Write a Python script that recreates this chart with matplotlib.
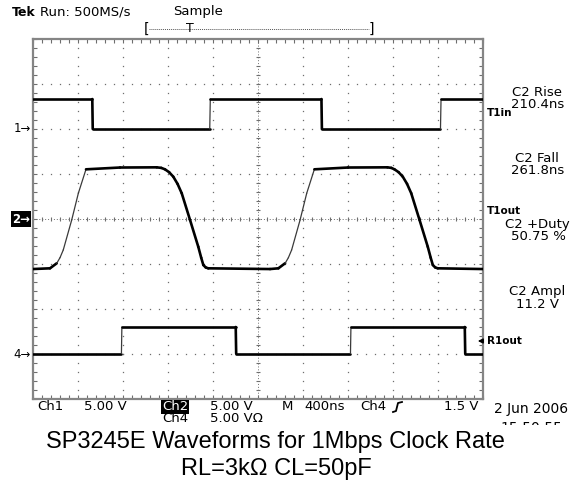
import numpy as np
import matplotlib
matplotlib.use("Agg")
import matplotlib.pyplot as plt
from matplotlib.collections import LineCollection
from matplotlib.lines import Line2D
from matplotlib.patches import Rectangle

# ======= Scope settings and traces (time in ns, level in volts) =======
volts_per_div = 5.0
ns_per_div = 400
ch_offsets = {"ch1": 2.0, "ch2": 0.0, "ch4": -3.0}   # ground markers, in divisions

ch1_t = [0, 527, 531, 1571, 1576, 2564, 2568, 3622, 3627, 4000]
ch1_v = [3.33, 3.33, 0.0, 0.0, 3.33, 3.33, 0.0, 0.0, 3.33, 3.33]

ch2_t = [0, 151, 211, 240, 269, 344, 403, 471, 773, 1100, 1140, 1173, 1210,
         1247, 1285, 1322, 1396, 1469, 1495, 1514, 1535, 1558, 2107, 2181,
         2241, 2270, 2299, 2374, 2433, 2501, 2800, 3150, 3185, 3213, 3250,
         3287, 3325, 3362, 3436, 3509, 3535, 3554, 3575, 3598, 4000]
ch2_v = [-5.56, -5.48, -4.92, -4.30, -3.44, -0.11, 2.86, 5.52, 5.72, 5.74,
         5.68, 5.52, 5.20, 4.70, 3.90, 2.86, -0.11, -3.08, -4.30, -5.11, -5.38,
         -5.48, -5.56, -5.48, -4.92, -4.30, -3.44, -0.11, 2.86, 5.52, 5.72,
         5.74, 5.68, 5.52, 5.20, 4.70, 3.90, 2.86, -0.11, -3.08, -4.30, -5.11,
         -5.38, -5.48, -5.56]

ch4_t = [0, 786, 790, 1802, 1806, 2822, 2826, 3838, 3842, 4000]
ch4_v = [0.05, 0.05, 3.0, 3.0, 0.05, 0.05, 3.0, 3.0, 0.05, 0.05]

measurements = [("C2 Rise", "210.4ns"), ("C2 Fall", "261.8ns"),
                ("C2 +Duty", "50.75 %"), ("C2 Ampl", "11.2 V")]

W, H = 582, 483
SCOPE_FONT = "DejaVu Sans"


def fx(x):
    return x / W


def fy(y):
    return 1 - y / H


def plot_trace(ax, t, v, offset):
    t = np.asarray(t, float)
    y = np.asarray(v, float) / volts_per_div + offset
    pts = np.column_stack([t, y])
    segs = np.stack([pts[:-1], pts[1:]], axis=1)
    slope = np.diff(y) / np.maximum(np.diff(t), 1e-9)
    widths, colors = [], []
    for s in slope:
        if s > 0.004:        # fast rising edges show up thin and grey
            widths.append(0.9)
            colors.append("#3a3a3a")
        else:
            widths.append(1.9)
            colors.append("black")
    lc = LineCollection(segs, linewidths=widths, colors=colors,
                        capstyle="round", joinstyle="round", zorder=5)
    ax.add_collection(lc)


fig = plt.figure(figsize=(W / 100, H / 100), dpi=100)
fig.patch.set_facecolor("white")
ax = fig.add_axes([fx(33), fy(399), 450 / W, 360 / H])
ax.set_xlim(0, 10 * ns_per_div)
ax.set_ylim(-4, 4)

grid_c = "#6e6e6e"
for sp in ax.spines.values():
    sp.set_color("#858585")
    sp.set_linewidth(1.6)
ax.set_xticks(np.arange(0, 4001, 400))
ax.set_yticks(np.arange(-4, 4.01, 1))
ax.set_xticks(np.arange(0, 4001, 80), minor=True)
ax.set_yticks(np.arange(-4, 4.01, 0.2), minor=True)
ax.tick_params(which="both", direction="in", length=3, width=0.8, color=grid_c,
               top=True, right=True, labelbottom=False, labelleft=False)

# graticule dots
ydots = np.arange(-4, 4.01, 0.2)
xdots = np.arange(0, 4001, 80)
for i in range(1, 10):
    if i == 5:
        continue
    ax.plot([i * 400] * len(ydots), ydots, ls="none", marker="s", ms=0.9,
            mec="none", mfc=grid_c, zorder=1)
for j in range(-3, 4):
    if j == 0:
        continue
    ax.plot(xdots, [j] * len(xdots), ls="none", marker="s", ms=0.9,
            mec="none", mfc=grid_c, zorder=1)
# center cross with small ticks
ax.axhline(0, color=grid_c, lw=0.7, ls=(0, (1, 2)), zorder=1)
ax.axvline(2000, color=grid_c, lw=0.7, ls=(0, (1, 2)), zorder=1)
ax.plot(xdots, [0] * len(xdots), ls="none", marker="|", ms=3, mew=0.8,
        color=grid_c, zorder=1)
ax.plot([2000] * len(ydots), ydots, ls="none", marker="_", ms=3, mew=0.8,
        color=grid_c, zorder=1)

plot_trace(ax, ch1_t, ch1_v, ch_offsets["ch1"])
plot_trace(ax, ch2_t, ch2_v, ch_offsets["ch2"])
plot_trace(ax, ch4_t, ch4_v, ch_offsets["ch4"])

# ======= header =======
fig.text(fx(12), fy(12), "Tek", fontsize=9, fontweight="bold",
         family=SCOPE_FONT, va="center", ha="left")
fig.text(fx(40), fy(12), "Run: 500MS/s", fontsize=9.5, family=SCOPE_FONT,
         va="center", ha="left")
fig.text(fx(173), fy(12), "Sample", fontsize=9.5, family=SCOPE_FONT,
         va="center", ha="left")
fig.text(fx(144), fy(29), "[", fontsize=10, family=SCOPE_FONT,
         va="center", ha="left")
fig.text(fx(374), fy(29), "]", fontsize=10, family=SCOPE_FONT,
         va="center", ha="right")
fig.add_artist(Line2D([fx(149), fx(369)], [fy(29), fy(29)], color="#555555",
                      lw=0.7, ls=(0, (1, 1))))
fig.text(fx(190), fy(28), "T", fontsize=9, family=SCOPE_FONT,
         va="center", ha="center")

# ======= channel ground markers =======
fig.text(fx(31), fy(129), "1\u2192", fontsize=8.5, family=SCOPE_FONT,
         va="center", ha="right")
fig.text(fx(30), fy(219), "2\u2192", fontsize=8.5, family=SCOPE_FONT,
         va="center", ha="right", color="white", fontweight="bold",
         bbox=dict(boxstyle="square,pad=0.1", fc="black", ec="none"))
fig.text(fx(31), fy(354), "4\u2192", fontsize=8.5, family=SCOPE_FONT,
         va="center", ha="right")

# ======= right side labels =======
for name, y in [("T1in", 113), ("T1out", 211), ("R1out", 341)]:
    fig.text(fx(487), fy(y), name, fontsize=7.5, fontweight="bold",
             family=SCOPE_FONT, va="center", ha="left")
ax.annotate("", xy=(fx(475), fy(341)), xytext=(fx(486), fy(341)),
            xycoords="figure fraction", textcoords="figure fraction",
            arrowprops=dict(arrowstyle="-|>", color="black", lw=1.0,
                            mutation_scale=7))
meas_y = [92, 158, 224, 292]
for (name, val), y in zip(measurements, meas_y):
    fig.text(fx(537), fy(y), name, fontsize=9.5, family=SCOPE_FONT,
             va="center", ha="center")
    fig.text(fx(538), fy(y + 12), val, fontsize=9.5, family=SCOPE_FONT,
             va="center", ha="center")

# ======= bottom status line =======
row1, row2 = 407, 419
fs = 9.5
fig.text(fx(37), fy(row1), "Ch1", fontsize=fs, family=SCOPE_FONT, va="center")
fig.text(fx(84), fy(row1), "5.00 V", fontsize=fs, family=SCOPE_FONT, va="center")
fig.text(fx(162), fy(row1), "Ch2", fontsize=fs, family=SCOPE_FONT, va="center",
         color="white", bbox=dict(boxstyle="square,pad=0.05", fc="black", ec="none"))
fig.text(fx(210), fy(row1), "5.00 V", fontsize=fs, family=SCOPE_FONT, va="center")
fig.text(fx(282), fy(row1), "M", fontsize=fs, family=SCOPE_FONT, va="center")
fig.text(fx(304), fy(row1), "400ns", fontsize=fs, family=SCOPE_FONT, va="center")
fig.text(fx(360), fy(row1), "Ch4", fontsize=fs, family=SCOPE_FONT, va="center")
fig.add_artist(Line2D([fx(393), fx(396), fx(398), fx(402)],
                      [fy(412), fy(411), fy(403), fy(402)], color="black", lw=1.3))
fig.text(fx(479), fy(row1), "1.5 V", fontsize=fs, family=SCOPE_FONT,
         va="center", ha="right")
fig.text(fx(531), fy(row1 + 2), "2 Jun 2006", fontsize=10, family=SCOPE_FONT,
         va="center", ha="center")
fig.text(fx(162), fy(row2), "Ch4", fontsize=fs, family=SCOPE_FONT, va="center")
fig.text(fx(210), fy(row2), "5.00 V\u03a9", fontsize=fs, family=SCOPE_FONT,
         va="center")
fig.text(fx(531), fy(428), "15:50:55", fontsize=10, family=SCOPE_FONT,
         va="center", ha="center")

# the screenshot was cropped just below the status line
fig.add_artist(Rectangle((0, 0), 1, fy(425), transform=fig.transFigure,
                         fc="white", ec="none", zorder=20))

# ======= caption =======
fig.text(fx(275), fy(442), "SP3245E Waveforms for 1Mbps Clock Rate",
         fontsize=17, family="Liberation Sans", va="center", ha="center",
         zorder=25)
fig.text(fx(276), fy(469), "RL=3k\u03a9 CL=50pF", fontsize=17,
         family="Liberation Sans", va="center", ha="center", zorder=25)

fig.savefig("out.png", dpi=100, facecolor="white")
